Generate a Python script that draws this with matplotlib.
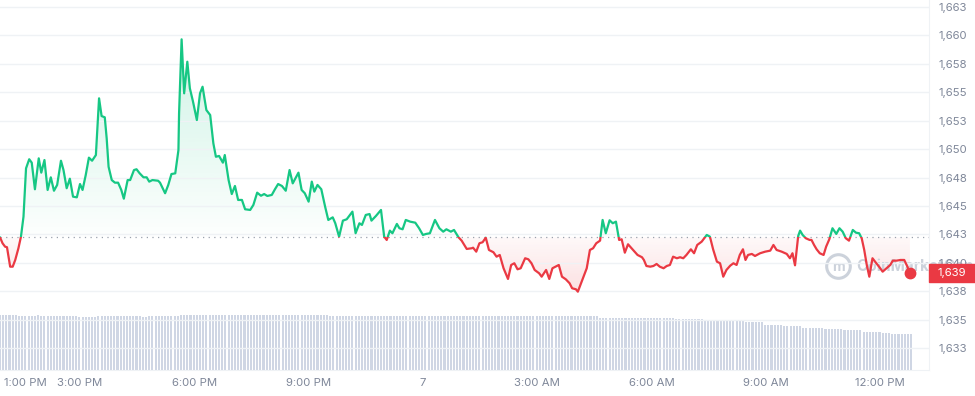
import numpy as np
import matplotlib
matplotlib.use('Agg')
import matplotlib.pyplot as plt
import matplotlib.colors as mcolors
from matplotlib.patches import PathPatch, Rectangle
from matplotlib.path import Path
from matplotlib.transforms import blended_transform_factory

plt.rcParams['font.family'] = ['Inter', 'DejaVu Sans']

# minutes since 12:54 PM (day 6), 24h window
minutes = [
    0, 4, 8, 11, 16, 20, 24, 29, 33, 37,
    41, 46, 50, 55, 61, 65, 70, 75, 80, 85,
    90, 96, 100, 105, 110, 115, 121, 126, 130, 135,
    140, 145, 151, 156, 160, 165, 168, 171, 176, 181,
    186, 191, 195, 201, 205, 211, 215, 220, 226, 231,
    235, 240, 249, 252, 260, 265, 270, 276, 281, 282,
    286, 290, 295, 299, 304, 310, 315, 319, 325, 331,
    336, 340, 345, 351, 354, 360, 365, 370, 375, 381,
    386, 394, 399, 405, 411, 416, 421, 428, 433, 438,
    444, 450, 456, 461, 470, 475, 480, 486, 491, 495,
    500, 506, 512, 517, 524, 528, 534, 540, 546, 555,
    560, 566, 570, 576, 582, 585, 592, 600, 605, 609,
    614, 618, 625, 629, 634, 639, 646, 654, 660, 666,
    671, 677, 685, 692, 698, 703, 710, 715, 722, 727,
    735, 743, 745, 750, 755, 760, 765, 770, 777, 782,
    787, 793, 800, 805, 810, 815, 820, 827, 832, 837,
    842, 849, 853, 860, 865, 870, 875, 880, 885, 891,
    897, 901, 907, 910, 916, 924, 929, 934, 939, 945,
    949, 954, 960, 965, 970, 975, 979, 984, 989, 997,
    1004, 1011, 1014, 1018, 1024, 1029, 1034, 1039, 1045, 1050,
    1055, 1060, 1066, 1071, 1076, 1081, 1088, 1093, 1098, 1105,
    1113, 1118, 1123, 1129, 1134, 1139, 1144, 1150, 1155, 1160,
    1165, 1170, 1174, 1178, 1184, 1189, 1197, 1205, 1213, 1218,
    1223, 1231, 1239, 1244, 1248, 1252, 1257, 1260, 1264, 1269,
    1275, 1278, 1282, 1286, 1291, 1297, 1301, 1306, 1311, 1317,
    1322, 1327, 1332, 1337, 1343, 1348, 1353, 1357, 1361, 1365,
    1369, 1374, 1380, 1385, 1390, 1396, 1402, 1406, 1412, 1418,
    1424, 1429, 1433,
]

price = [
    1642.25, 1641.72, 1641.42, 1641.37, 1639.66, 1639.66, 1640.25, 1641.28, 1642.30, 1644.06,
    1648.31, 1649.11, 1648.81, 1646.47, 1649.19, 1647.93, 1649.04, 1646.41, 1647.52, 1646.34,
    1646.85, 1648.98, 1648.16, 1646.56, 1647.40, 1645.82, 1645.76, 1646.93, 1646.41, 1647.72,
    1649.25, 1648.98, 1649.48, 1654.47, 1652.91, 1652.80, 1650.95, 1648.45, 1647.28, 1647.05,
    1647.05, 1646.41, 1645.64, 1647.28, 1647.28, 1648.16, 1648.23, 1647.87, 1647.52, 1647.52,
    1647.14, 1647.28, 1647.22, 1647.05, 1646.12, 1646.85, 1647.81, 1647.87, 1649.92, 1653.15,
    1659.66, 1654.91, 1657.69, 1655.35, 1654.17, 1652.56, 1654.91, 1655.49, 1653.44, 1653.00,
    1650.51, 1649.33, 1649.40, 1648.81, 1649.48, 1647.28, 1646.05, 1646.76, 1645.53, 1645.53,
    1644.71, 1644.65, 1645.09, 1646.17, 1645.90, 1646.05, 1645.88, 1645.97, 1646.47, 1646.93,
    1646.76, 1646.34, 1648.16, 1646.99, 1647.93, 1646.41, 1646.12, 1645.38, 1647.14, 1646.26,
    1646.85, 1646.47, 1644.94, 1643.77, 1644.00, 1643.48, 1642.30, 1643.71, 1643.83, 1644.50,
    1642.60, 1643.48, 1643.33, 1644.21, 1644.29, 1643.71, 1644.12, 1644.65, 1642.30, 1642.01,
    1642.83, 1642.60, 1643.42, 1643.04, 1642.95, 1643.77, 1643.62, 1643.53, 1643.04, 1642.45,
    1642.54, 1642.60, 1643.77, 1643.04, 1642.74, 1642.95, 1642.74, 1642.89, 1642.25, 1641.95,
    1641.22, 1641.28, 1641.33, 1640.98, 1641.72, 1641.81, 1642.21, 1641.13, 1640.93, 1640.54,
    1640.69, 1639.52, 1638.58, 1639.81, 1639.96, 1639.43, 1639.52, 1640.40, 1640.31, 1639.96,
    1639.37, 1639.08, 1638.78, 1639.37, 1638.58, 1639.52, 1639.66, 1639.81, 1638.78, 1638.55,
    1638.20, 1637.76, 1637.67, 1637.46, 1638.34, 1639.52, 1641.13, 1641.28, 1641.72, 1641.95,
    1643.77, 1642.60, 1643.74, 1643.48, 1643.62, 1642.01, 1642.07, 1640.89, 1641.63, 1641.13,
    1640.69, 1640.49, 1640.25, 1639.72, 1639.66, 1639.72, 1639.90, 1639.66, 1639.52, 1639.72,
    1639.81, 1640.54, 1640.40, 1640.49, 1640.40, 1640.69, 1641.19, 1640.84, 1641.57, 1641.86,
    1642.45, 1642.30, 1641.19, 1640.10, 1639.96, 1638.78, 1639.37, 1639.75, 1639.96, 1639.81,
    1640.69, 1641.19, 1640.25, 1640.69, 1640.78, 1640.60, 1640.84, 1640.98, 1641.07, 1641.57,
    1641.13, 1640.98, 1640.78, 1640.40, 1640.84, 1639.78, 1642.36, 1642.83, 1642.45, 1642.16,
    1642.01, 1642.01, 1641.57, 1641.19, 1640.84, 1640.69, 1641.42, 1642.07, 1643.04, 1642.54,
    1643.04, 1642.74, 1642.16, 1641.95, 1642.89, 1642.65, 1642.60, 1642.16, 1641.13, 1639.81,
    1638.78, 1640.40, 1639.96, 1639.61, 1639.22, 1639.52, 1639.81, 1640.19, 1640.19, 1640.25,
    1640.25, 1639.66, 1639.08,
]

open_price = 1642.25

# volume bars (5 min each), stored as level / run length
vol_levels = [14.86, 14.59, 14.86, 14.59, 14.40, 14.59, 14.32, 14.59, 14.86, 14.70,
              14.05, 13.78, 13.51, 13.10, 12.16, 11.89, 11.35, 11.08, 10.81, 10.27,
              10.00, 9.73]
vol_counts = [6, 6, 1, 12, 6, 14, 2, 10, 47, 85,
              24, 9, 13, 6, 6, 6, 7, 6, 6, 6,
              3, 7]
volume = np.repeat(vol_levels, vol_counts)
vol_minutes = np.arange(len(volume)) * 5

xtick_pos = [6, 126, 306, 486, 666, 846, 1026, 1206, 1386]
xtick_labels = ['1:00 PM', '3:00 PM', '6:00 PM', '9:00 PM', '7',
                '3:00 AM', '6:00 AM', '9:00 AM', '12:00 PM']
ytick_pos = [1632.5, 1635, 1637.5, 1640, 1642.5, 1645, 1647.5,
             1650, 1652.5, 1655, 1657.5, 1660, 1662.5]
ytick_labels = ['1,633', '1,635', '1,638', '1,640', '1,643', '1,645', '1,648',
                '1,650', '1,653', '1,655', '1,658', '1,660', '1,663']

GREEN = '#16c784'
RED = '#ea3943'
GREY = '#7f8799'
GRID = '#eff2f5'

minutes = np.array(minutes, dtype=float)
price = np.array(price)

fig = plt.figure(figsize=(9.75, 3.96), dpi=100)
ax = fig.add_axes([0, 26 / 396, 929 / 975, 370 / 396])
vax = ax.twinx()

XLIM = (0, 1463)
YLIM = (1630.57, 1663.12)

# volume
vax.bar(vol_minutes, volume, width=3.3, color='#cfd6e4', align='center', lw=0)
vax.set_ylim(0, 100)
vax.set_yticks([])
for s in vax.spines.values():
    s.set_visible(False)
vax.set_zorder(0)
ax.set_zorder(1)
ax.patch.set_visible(False)


def gradient_fill(where, color, a_hi, a_lo, lo, hi):
    coll = ax.fill_between(minutes, price, open_price, where=where,
                           interpolate=True, facecolor='none', edgecolor='none')
    path = Path.make_compound_path(*coll.get_paths())
    patch = PathPatch(path, transform=ax.transData, facecolor='none', edgecolor='none')
    ax.add_patch(patch)
    grad = np.zeros((200, 1, 4))
    grad[..., :3] = mcolors.to_rgb(color)
    grad[:, 0, 3] = np.linspace(a_hi, a_lo, 200)
    im = ax.imshow(grad, aspect='auto', extent=[XLIM[0], XLIM[1], lo, hi],
                   origin='upper', zorder=1, interpolation='bilinear')
    im.set_clip_path(patch)


gradient_fill(price >= open_price, GREEN, 0.22, 0.01, open_price, 1660.5)
gradient_fill(price <= open_price, RED, 0.03, 0.16, 1637.3, open_price)

# price line, green above / red below the open
for col, lo, hi in [(GREEN, open_price, 1700), (RED, 1600, open_price)]:
    ln, = ax.plot(minutes, price, color=col, lw=1.6, zorder=3,
                  solid_joinstyle='round', solid_capstyle='round')
    clip = Rectangle((-500, lo), 3000, hi - lo, transform=ax.transData)
    ln.set_clip_path(clip)

ax.axhline(open_price, color='#9aa1ad', lw=0.9, ls=(0, (1, 3.5)), zorder=2)
ax.plot(minutes[-1], price[-1], 'o', ms=7.5, color=RED, zorder=4, clip_on=False)

# watermark
ax.plot([0.902], [0.281], marker='o', ms=17, mfc='none', mec='#ccd2db', mew=2.2,
        transform=ax.transAxes, zorder=1.5)
ax.text(0.902, 0.279, 'm', transform=ax.transAxes, ha='center', va='center',
        fontsize=10, fontweight='bold', color='#ccd2db', zorder=1.5)
ax.text(0.922, 0.281, 'CoinMarketCap', transform=ax.transAxes, ha='left', va='center',
        fontsize=11, fontweight='bold', color='#ccd2db', zorder=1.5)

ax.set_xlim(*XLIM)
ax.set_ylim(*YLIM)

ax.set_xticks(xtick_pos)
ax.set_xticklabels(xtick_labels)
ax.get_xticklabels()[0].set_ha('left')
ax.yaxis.tick_right()
ax.set_yticks(ytick_pos)
ax.set_yticklabels(ytick_labels)
ax.tick_params(axis='both', length=0, labelsize=8.2, labelcolor=GREY)
ax.tick_params(axis='x', pad=6)
ax.tick_params(axis='y', pad=6.5)
ax.grid(axis='y', color=GRID, lw=1)
ax.grid(axis='x', visible=False)

for side in ['top', 'left']:
    ax.spines[side].set_visible(False)
ax.spines['right'].set_color(GRID)
ax.spines['bottom'].set_color(GRID)

# last price tag on the right axis
tr = blended_transform_factory(ax.transAxes, ax.transData)
ax.add_patch(Rectangle((1.0, price[-1] - 0.79), 46 / 929, 1.58, transform=tr,
                       color=RED, clip_on=False, zorder=5))
ax.text(1.0 + 9 / 929, price[-1], '1,639', transform=tr, color='white',
        fontsize=8.2, ha='left', va='center', zorder=6, clip_on=False)

fig.savefig('out.png', dpi=100)
